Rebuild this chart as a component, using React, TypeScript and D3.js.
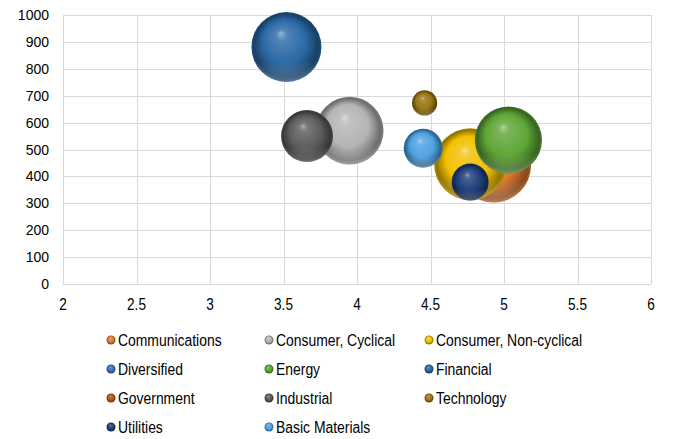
import React from "react";
import * as d3 from "d3";

const sectors = [
  "Communications",
  "Consumer, Cyclical",
  "Consumer, Non-cyclical",
  "Diversified",
  "Energy",
  "Financial",
  "Government",
  "Industrial",
  "Technology",
  "Utilities",
  "Basic Materials",
];
// x, y and bubble size per sector (null = no bubble drawn)
const xValues = [4.93, 3.95, 4.77, null, 5.03, 3.52, null, 3.66, 4.46, 4.77, 4.45];
const yValues = [442, 570, 445, null, 535, 881, null, 550, 673, 379, 505];
const sizes = [114, 94, 106, null, 92, 100, null, 55, 13, 28, 31];
const colors = [
  "#e27a30",
  "#b4b4b4",
  "#f2c000",
  "#3d6fc2",
  "#5ea636",
  "#2a69a6",
  "#b4521c",
  "#5c5c5c",
  "#9a7612",
  "#213f7c",
  "#4ea2e2",
];

const xTicks = [2, 2.5, 3, 3.5, 4, 4.5, 5, 5.5, 6];
const yTicks = [0, 100, 200, 300, 400, 500, 600, 700, 800, 900, 1000];

const W = 693;
const H = 439;
const font = "'Liberation Sans', Arial, sans-serif";

export default function App() {
  const x = d3.scaleLinear().domain([2, 6]).range([63, 651]);
  const y = d3.scaleLinear().domain([0, 1000]).range([284, 15]);
  const r = d3.scaleSqrt().domain([0, 100]).range([0, 35]);

  const light = (c: string, k: number) => d3.interpolateRgb(c, "#ffffff")(k);
  const dark = (c: string, k: number) => d3.interpolateRgb(c, "#000000")(k);

  const legendCols = [111, 269, 429];
  const legendRows = [340, 369, 398, 427];

  return (
    <div style={{ position: "absolute", left: 0, top: 0, width: W, height: H, background: "#fff" }}>
      <svg width={W} height={H} style={{ display: "block" }}>
        <defs>
          {colors.map((c, i) => (
            <radialGradient key={i} id={`g${i}`} cx="50%" cy="50%" r="50%" fx="42%" fy="30%">
              <stop offset="0%" stopColor={light(c, 0.5)} />
              <stop offset="16%" stopColor={light(c, 0.18)} />
              <stop offset="62%" stopColor={c} />
              <stop offset="92%" stopColor={dark(c, 0.4)} />
              <stop offset="100%" stopColor={dark(c, 0.28)} />
            </radialGradient>
          ))}
          <linearGradient id="rim" x1="0" y1="0" x2="0" y2="1">
            <stop offset="70%" stopColor="#fff" stopOpacity={0} />
            <stop offset="100%" stopColor="#fff" stopOpacity={0.25} />
          </linearGradient>
          <filter id="soft" x="-20%" y="-20%" width="140%" height="140%">
            <feGaussianBlur in="SourceGraphic" stdDeviation="0.6" />
          </filter>
        </defs>

        {/* grid */}
        <g stroke="#d9d9d9" strokeWidth={1}>
          {yTicks.map((t) => (
            <line key={t} x1={x(2)} x2={x(6)} y1={Math.round(y(t)) + 0.5} y2={Math.round(y(t)) + 0.5} />
          ))}
          {xTicks.map((t) => (
            <line key={t} x1={Math.round(x(t)) + 0.5} x2={Math.round(x(t)) + 0.5} y1={y(1000)} y2={y(0)} />
          ))}
        </g>

        {/* axis labels */}
        <g fontFamily={font} fontSize={14} fill="#000">
          {yTicks.map((t) => (
            <text key={t} x={49} y={y(t)} textAnchor="end" dominantBaseline="central">
              {t}
            </text>
          ))}
          {xTicks.map((t) => (
            <text
              key={t}
              transform={`translate(${x(t)},305) scale(0.85,1)`}
              fontSize={16}
              textAnchor="middle"
              dominantBaseline="central"
            >
              {t}
            </text>
          ))}
        </g>

        {/* bubbles */}
        <g filter="url(#soft)">
          {sectors.map((s, i) => {
            const xv = xValues[i];
            const yv = yValues[i];
            const sv = sizes[i];
            if (xv == null || yv == null || sv == null) return null;
            return (
              <g key={s}>
                <circle cx={x(xv)} cy={y(yv)} r={r(sv)} fill={`url(#g${i})`} />
                <circle cx={x(xv)} cy={y(yv)} r={r(sv)} fill="url(#rim)" />
              </g>
            );
          })}
        </g>

        {/* legend */}
        <g fontFamily={font} fontSize={16} fill="#000">
          {sectors.map((s, i) => {
            const cx = legendCols[i % 3];
            const cy = legendRows[Math.floor(i / 3)];
            return (
              <g key={s}>
                <circle cx={cx} cy={cy} r={4.5} fill={`url(#g${i})`} />
                <text transform={`translate(${cx + 7},${cy}) scale(0.87,1)`} dominantBaseline="central">
                  {s}
                </text>
              </g>
            );
          })}
        </g>
      </svg>
    </div>
  );
}
